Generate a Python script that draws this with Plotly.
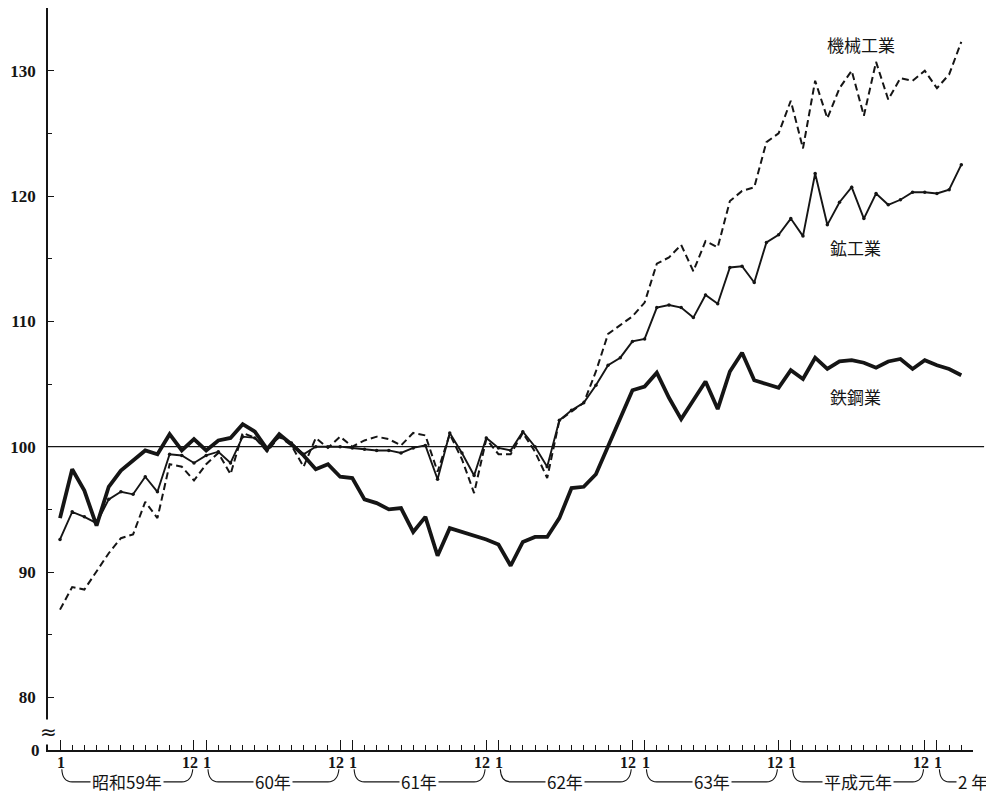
import plotly.graph_objects as go

# month index 0 = 昭和59年1月 (Jan 1984) ... 74 = 平成2年3月
months = list(range(75))

steel = [94.3, 98.2, 96.5, 93.7, 96.8, 98.1, 98.9, 99.7, 99.4, 101.0, 99.7, 100.6,
         99.7, 100.5, 100.7, 101.8, 101.2, 99.8, 101.0, 100.2, 99.3, 98.2, 98.6, 97.6,
         97.5, 95.8, 95.5, 95.0, 95.1, 93.2, 94.4, 91.3, 93.5, 93.2, 92.9, 92.6,
         92.2, 90.5, 92.4, 92.8, 92.8, 94.3, 96.7, 96.8, 97.8, 100.0, 102.2, 104.5,
         104.8, 105.9, 103.9, 102.2, 103.7, 105.2, 103.0, 106.0, 107.5, 105.3, 105.0, 104.7,
         106.1, 105.4, 107.1, 106.2, 106.8, 106.9, 106.7, 106.3, 106.8, 107.0, 106.2, 106.9,
         106.5, 106.2, 105.7]

mining = [92.6, 94.8, 94.4, 93.9, 95.8, 96.4, 96.2, 97.6, 96.4, 99.4, 99.3, 98.7,
          99.3, 99.6, 98.7, 100.8, 100.7, 99.7, 100.8, 100.3, 99.4, 100.0, 100.0, 100.0,
          99.9, 99.8, 99.7, 99.7, 99.5, 99.9, 100.1, 97.4, 101.1, 99.5, 97.7, 100.7,
          99.9, 99.7, 101.2, 100.0, 98.4, 102.1, 102.9, 103.5, 104.9, 106.5, 107.1, 108.4,
          108.6, 111.1, 111.3, 111.1, 110.3, 112.1, 111.4, 114.3, 114.4, 113.1, 116.3, 116.9,
          118.2, 116.8, 121.8, 117.7, 119.5, 120.7, 118.2, 120.2, 119.3, 119.7, 120.3, 120.3,
          120.2, 120.5, 122.5]

machinery = [87.0, 88.8, 88.6, 90.0, 91.5, 92.7, 93.0, 95.6, 94.3, 98.6, 98.4, 97.3,
             98.6, 99.5, 97.8, 101.1, 100.7, 99.6, 100.8, 100.1, 98.4, 100.7, 99.9, 100.8,
             100.0, 100.5, 100.8, 100.6, 100.1, 101.1, 100.9, 98.0, 101.0, 99.0, 96.3, 100.6,
             99.4, 99.4, 101.1, 99.6, 97.5, 102.1, 102.8, 103.5, 106.0, 109.0, 109.7, 110.4,
             111.5, 114.6, 115.1, 116.1, 114.0, 116.4, 115.9, 119.6, 120.4, 120.7, 124.3, 125.0,
             127.6, 123.8, 129.2, 126.2, 128.6, 130.0, 126.4, 130.7, 127.7, 129.4, 129.2, 130.0,
             128.6, 129.7, 132.3]

series_names = ["機械工業", "鉱工業", "鉄鋼業"]
jan_ticks = [0, 12, 24, 36, 48, 60, 72]
dec_ticks = [11, 23, 35, 47, 59, 71]
jan_label = "1"
dec_label = "12"
y_tick_vals = [80, 90, 100, 110, 120, 130]
year_labels = ["昭和59年", "60年", "61年", "62年", "63年", "平成元年"]
last_year_label = "2 年"

INK = "#151515"
NUM_FONT = "Liberation Serif, Noto Sans CJK JP"
JP_FONT = "Noto Sans CJK JP, Liberation Serif"

fig = go.Figure()
fig.add_trace(go.Scatter(x=months, y=machinery, mode="lines", name=series_names[0],
                         line=dict(color=INK, width=2, dash="7px,4px")))
fig.add_trace(go.Scatter(x=months, y=mining, mode="lines+markers", name=series_names[1],
                         line=dict(color=INK, width=1.9),
                         marker=dict(size=3.5, color=INK)))
fig.add_trace(go.Scatter(x=months, y=steel, mode="lines", name=series_names[2],
                         line=dict(color=INK, width=3.8)))

# 100 reference line
fig.add_shape(type="line", xref="paper", yref="y", x0=0, x1=1.012, y0=100, y1=100,
              line=dict(color=INK, width=1.3), layer="below")

# month tick labels (1 / 12) under the axis
for v in jan_ticks:
    fig.add_annotation(x=v, y=0, xref="x", yref="paper", text=jan_label, showarrow=False,
                       xanchor="center", yanchor="top", xshift=1, yshift=-2,
                       font=dict(family=NUM_FONT, size=16, color=INK, weight="bold"))
for v in dec_ticks:
    fig.add_annotation(x=v, y=0, xref="x", yref="paper", text=dec_label, showarrow=False,
                       xanchor="center", yanchor="top", xshift=-4, yshift=-2,
                       font=dict(family=NUM_FONT, size=16, color=INK, weight="bold"))

# year brackets under the axis
y_top = -0.026
y_mid = -0.043
for k, lab in enumerate(year_labels):
    a = 12 * k
    b = a + 11
    path = (f"M {a + 0.15},{y_top} Q {a + 0.2},{y_mid} {a + 1.0},{y_mid} "
            f"L {b - 1.0},{y_mid} Q {b - 0.2},{y_mid} {b - 0.1},{y_top}")
    fig.add_shape(type="path", xref="x", yref="paper", path=path,
                  line=dict(color=INK, width=1.1))
    fig.add_annotation(x=a + 5.5, y=y_mid, xref="x", yref="paper", text=lab,
                       showarrow=False, bgcolor="white", borderpad=1,
                       xanchor="center", yanchor="middle",
                       font=dict(family=JP_FONT, size=17, color=INK))
a = 72
path = f"M {a + 0.2},{y_top} Q {a + 0.25},{y_mid} {a + 1.0},{y_mid} L {a + 2.4},{y_mid}"
fig.add_shape(type="path", xref="x", yref="paper", path=path,
              line=dict(color=INK, width=1.1))
fig.add_annotation(x=74.95, y=y_mid, xref="x", yref="paper", text=last_year_label,
                   showarrow=False, bgcolor="white", borderpad=1,
                   xanchor="center", yanchor="middle",
                   font=dict(family=JP_FONT, size=17, color=INK))

# series labels
fig.add_annotation(x=65.8, y=132.1, text=series_names[0], showarrow=False,
                   font=dict(family=JP_FONT, size=17, color=INK))
fig.add_annotation(x=65.3, y=115.9, text=series_names[1], showarrow=False,
                   font=dict(family=JP_FONT, size=17, color=INK))
fig.add_annotation(x=65.3, y=104.0, text=series_names[2], showarrow=False,
                   font=dict(family=JP_FONT, size=17, color=INK))

# zero label and axis break mark
fig.add_annotation(x=0, y=75.8, xref="paper", yref="y", text="0", showarrow=False,
                   xanchor="right", xshift=-6, yanchor="middle",
                   font=dict(family=NUM_FONT, size=17, color=INK, weight="bold"))
fig.add_annotation(x=0, y=77.2, xref="paper", yref="y", text="≈", showarrow=False,
                   bgcolor="white", borderpad=0, xanchor="center", yanchor="middle",
                   font=dict(family="DejaVu Sans", size=20, color=INK))

# page body has an 8px margin: figure is sized so the plot lands where the reference has it
fig.update_layout(
    width=986, height=787,
    margin=dict(l=40, r=21, t=0, b=45),
    paper_bgcolor="white", plot_bgcolor="white",
    showlegend=False,
    xaxis=dict(range=[-0.985, 74.96], showline=True, linecolor=INK, linewidth=1.5,
               showgrid=False, zeroline=False,
               tickmode="array", tickvals=sorted(jan_ticks + dec_ticks),
               showticklabels=False,
               ticks="inside", ticklen=10, tickwidth=1.2, tickcolor=INK,
               minor=dict(tickmode="linear", tick0=0, dtick=1, ticks="inside",
                          ticklen=5, tickwidth=1, tickcolor=INK, showgrid=False)),
    yaxis=dict(range=[75.8, 135.0], showline=True, linecolor=INK, linewidth=1.5,
               showgrid=False, zeroline=False,
               tickmode="array", tickvals=y_tick_vals,
               ticks="inside", ticklen=6, tickwidth=1.2, tickcolor=INK,
               ticklabelstandoff=7,
               tickfont=dict(family=NUM_FONT, size=17, color=INK, weight="bold"),
               minor=dict(tickmode="linear", tick0=80, dtick=5, ticks="inside",
                          ticklen=4, tickwidth=1, tickcolor=INK, showgrid=False)),
)

fig.write_html("out.html")
